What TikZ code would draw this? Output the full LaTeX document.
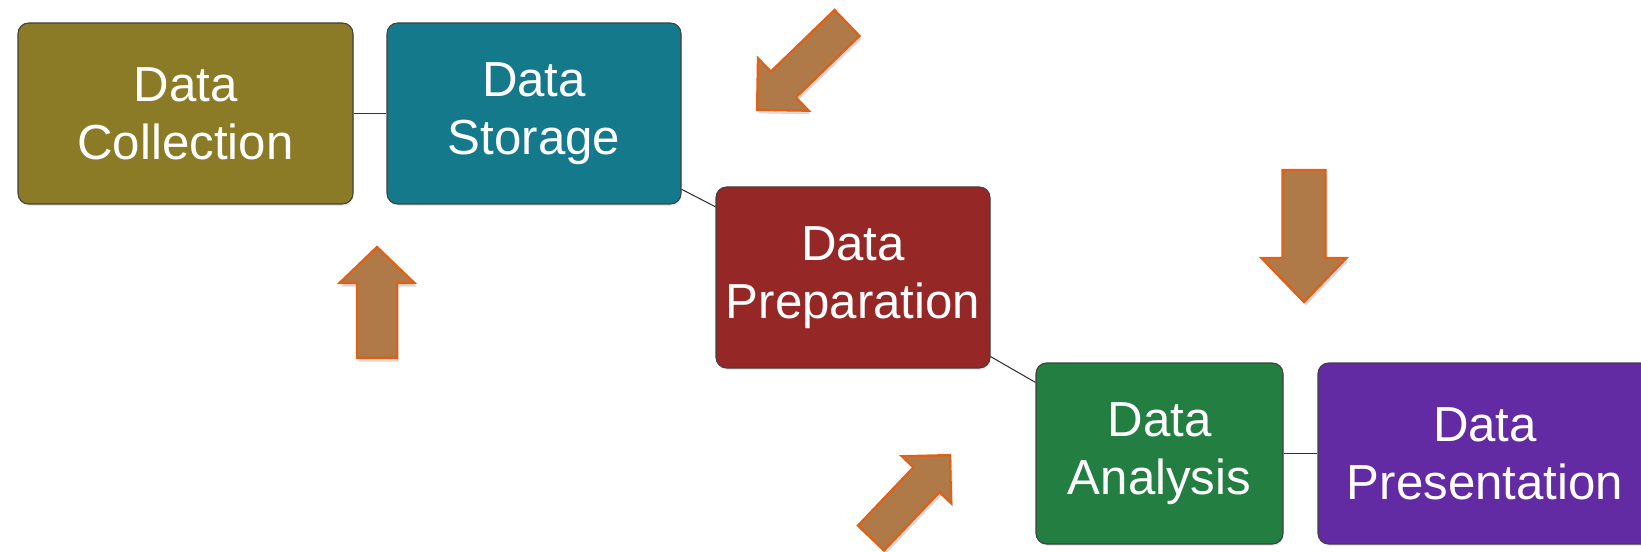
\documentclass[tikz,border=0pt]{standalone}
\usepackage{fontspec}
\setmainfont{Liberation Sans}
\usetikzlibrary{shadows}

\definecolor{collcol}{HTML}{8B7B26}
\definecolor{storcol}{HTML}{147A8B}
\definecolor{prepcol}{HTML}{962727}
\definecolor{analcol}{HTML}{227F41}
\definecolor{prescol}{HTML}{622AA3}
\definecolor{arrowfill}{HTML}{B07A48}
\definecolor{arrowedge}{HTML}{DD6118}

\tikzset{
    stage/.style={draw=black!75, line width=0.6pt, rounded corners=6pt,
        text=white, minimum height=3.62cm, align=center,
        font=\fontsize{28}{33}\selectfont,
        drop shadow={opacity=0.2, shadow xshift=0.4pt, shadow yshift=-1pt}},
    link/.style={draw=black!80, line width=0.6pt},
    pointer/.style={fill=arrowfill, draw=arrowedge, line width=1.3pt,
        drop shadow={opacity=0.3, shadow xshift=1pt, shadow yshift=-2pt}}
}

\begin{document}
\begin{tikzpicture}
    \useasboundingbox (0,0) rectangle (32.82,11.02);
    \clip (0,0) rectangle (32.82,11.02);

    % stages
    \node[stage, fill=collcol, minimum width=6.7cm]  (coll) at (3.71,8.75)  {Data\\Collection};
    \node[stage, fill=storcol, minimum width=5.88cm] (stor) at (10.68,8.75) {Data\\Storage};
    \node[stage, fill=prepcol, minimum width=5.48cm] (prep) at (17.06,5.47) {Data\\Preparation};
    \node[stage, fill=analcol, minimum width=4.94cm] (anal) at (23.19,1.95) {Data\\Analysis};
    \node[stage, fill=prescol, minimum width=6.68cm] (pres) at (29.70,1.95) {Data\\Presentation};

    \draw[link] (coll) -- (stor);
    \draw[link] (stor) -- (prep);
    \draw[link] (prep) -- (anal);
    \draw[link] (anal) -- (pres);

    % block arrows
    \begin{scope}[shift={(7.54,3.86)}, rotate=90]
        \draw[pointer] (0,-0.4) -- (1.5,-0.4) -- (1.5,-0.75) -- (2.22,0) -- (1.5,0.75) -- (1.5,0.4) -- (0,0.4) -- cycle;
    \end{scope}
    \begin{scope}[shift={(26.08,7.62)}, rotate=-90]
        \draw[pointer] (0,-0.43) -- (1.76,-0.43) -- (1.76,-0.85) -- (2.64,0) -- (1.76,0.85) -- (1.76,0.43) -- (0,0.43) -- cycle;
    \end{scope}
    \begin{scope}[shift={(16.94,10.56)}, rotate=224]
        \draw[pointer] (0,-0.36) -- (1.77,-0.36) -- (1.77,-0.73) -- (2.5,0) -- (1.77,0.73) -- (1.77,0.36) -- (0,0.36) -- cycle;
    \end{scope}
    \begin{scope}[shift={(17.42,0.26)}, rotate=46.4]
        \draw[pointer] (0,-0.36) -- (1.61,-0.36) -- (1.61,-0.68) -- (2.29,0) -- (1.61,0.68) -- (1.61,0.36) -- (0,0.36) -- cycle;
    \end{scope}
\end{tikzpicture}
\end{document}
